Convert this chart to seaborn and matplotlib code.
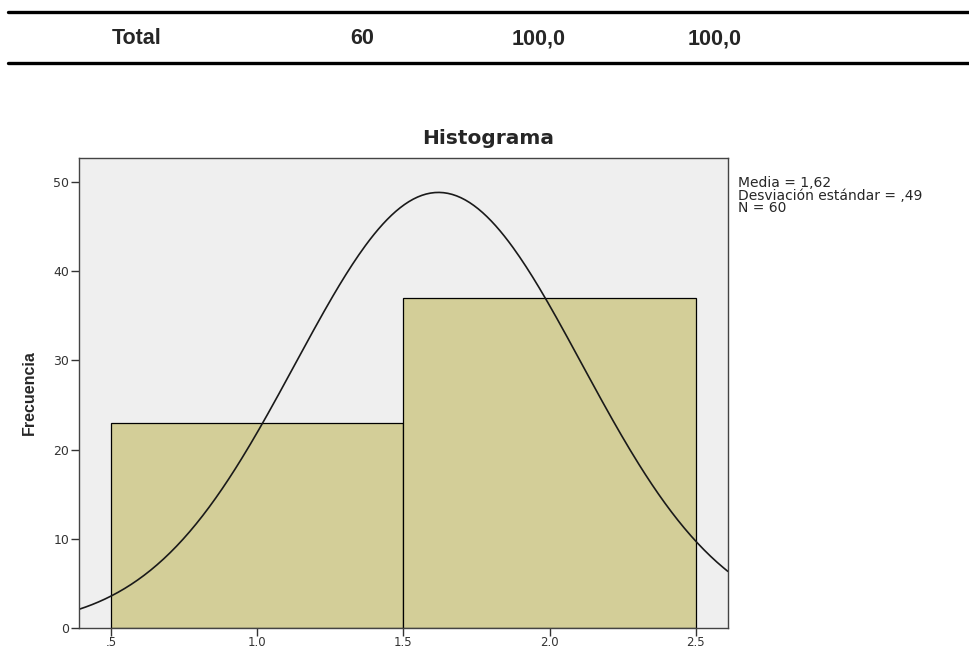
import numpy as np
import pandas as pd
import seaborn as sns
import matplotlib.pyplot as plt

# frequency table data
valores = [1, 2]
frecuencia = [23, 37]
bin_edges = [0.5, 1.5, 2.5]
x_ticks = [0.5, 1.0, 1.5, 2.0, 2.5]
x_labels = [".5", "1.0", "1.5", "2.0", "2.5"]
y_ticks = [0, 10, 20, 30, 40, 50]
media = 1.62
desv = 0.49
n_total = 60
tabla_fila = ["Total", "60", "100,0", "100,0"]

sns.set_style("white")
plt.rcParams["font.family"] = ["DejaVu Sans"]

fig = plt.figure(figsize=(9.7, 6.49), dpi=100)
ax = fig.add_axes([0.0814, 0.0324, 0.669, 0.724])
ax.set_facecolor("#efefef")

df = pd.DataFrame({"valor": valores, "frecuencia": frecuencia})
sns.histplot(data=df, x="valor", weights="frecuencia", bins=bin_edges,
             color="#d3ce98", alpha=1, edgecolor="black", linewidth=0.9, ax=ax)

# normal curve scaled to counts (bin width 1)
xs = np.linspace(0.39, 2.61, 300)
ys = n_total * 1.0 / (desv * np.sqrt(2 * np.pi)) * np.exp(-0.5 * ((xs - media) / desv) ** 2)
sns.lineplot(x=xs, y=ys, color="#1a1a1a", linewidth=1.2, ax=ax)

ax.set_xlim(0.39, 2.61)
ax.set_ylim(0, 52.7)
ax.set_xticks(x_ticks)
ax.set_xticklabels(x_labels)
ax.set_yticks(y_ticks)
ax.tick_params(axis="both", direction="out", length=6, width=1, color="#333333",
               labelsize=9, labelcolor="#333333", bottom=True, left=True, pad=1)
ax.tick_params(axis="x", labelsize=8.5, pad=0)
for s in ax.spines.values():
    s.set_color("#444444")
    s.set_linewidth(1.0)
ax.set_xlabel("")
ax.set_ylabel("Frecuencia", fontsize=11.5, fontweight="bold",
              family=["Liberation Sans"], labelpad=12)

fig.text(0.503, 0.772, "Histograma", ha="center", va="bottom", fontsize=14.5, fontweight="bold")
fig.text(0.761, 0.729, f"Media = 1,62\nDesviación estándar = ,49\nN = {n_total}",
         ha="left", va="top", fontsize=10, linespacing=0.88)

# table fragment at the top
fig.add_artist(plt.Line2D([0.008, 1.0], [1 - 12 / 649, 1 - 12 / 649], color="black", linewidth=2.4))
fig.add_artist(plt.Line2D([0.008, 1.0], [1 - 63 / 649, 1 - 63 / 649], color="black", linewidth=2.4))
tx = [0.141, 0.373, 0.555, 0.737]
for x, t in zip(tx, tabla_fila):
    fig.text(x, 1 - 39 / 649, t, ha="center", va="center", fontsize=15.5, fontweight="bold",
             family=["Liberation Sans"])

fig.savefig("out.png", dpi=100)
